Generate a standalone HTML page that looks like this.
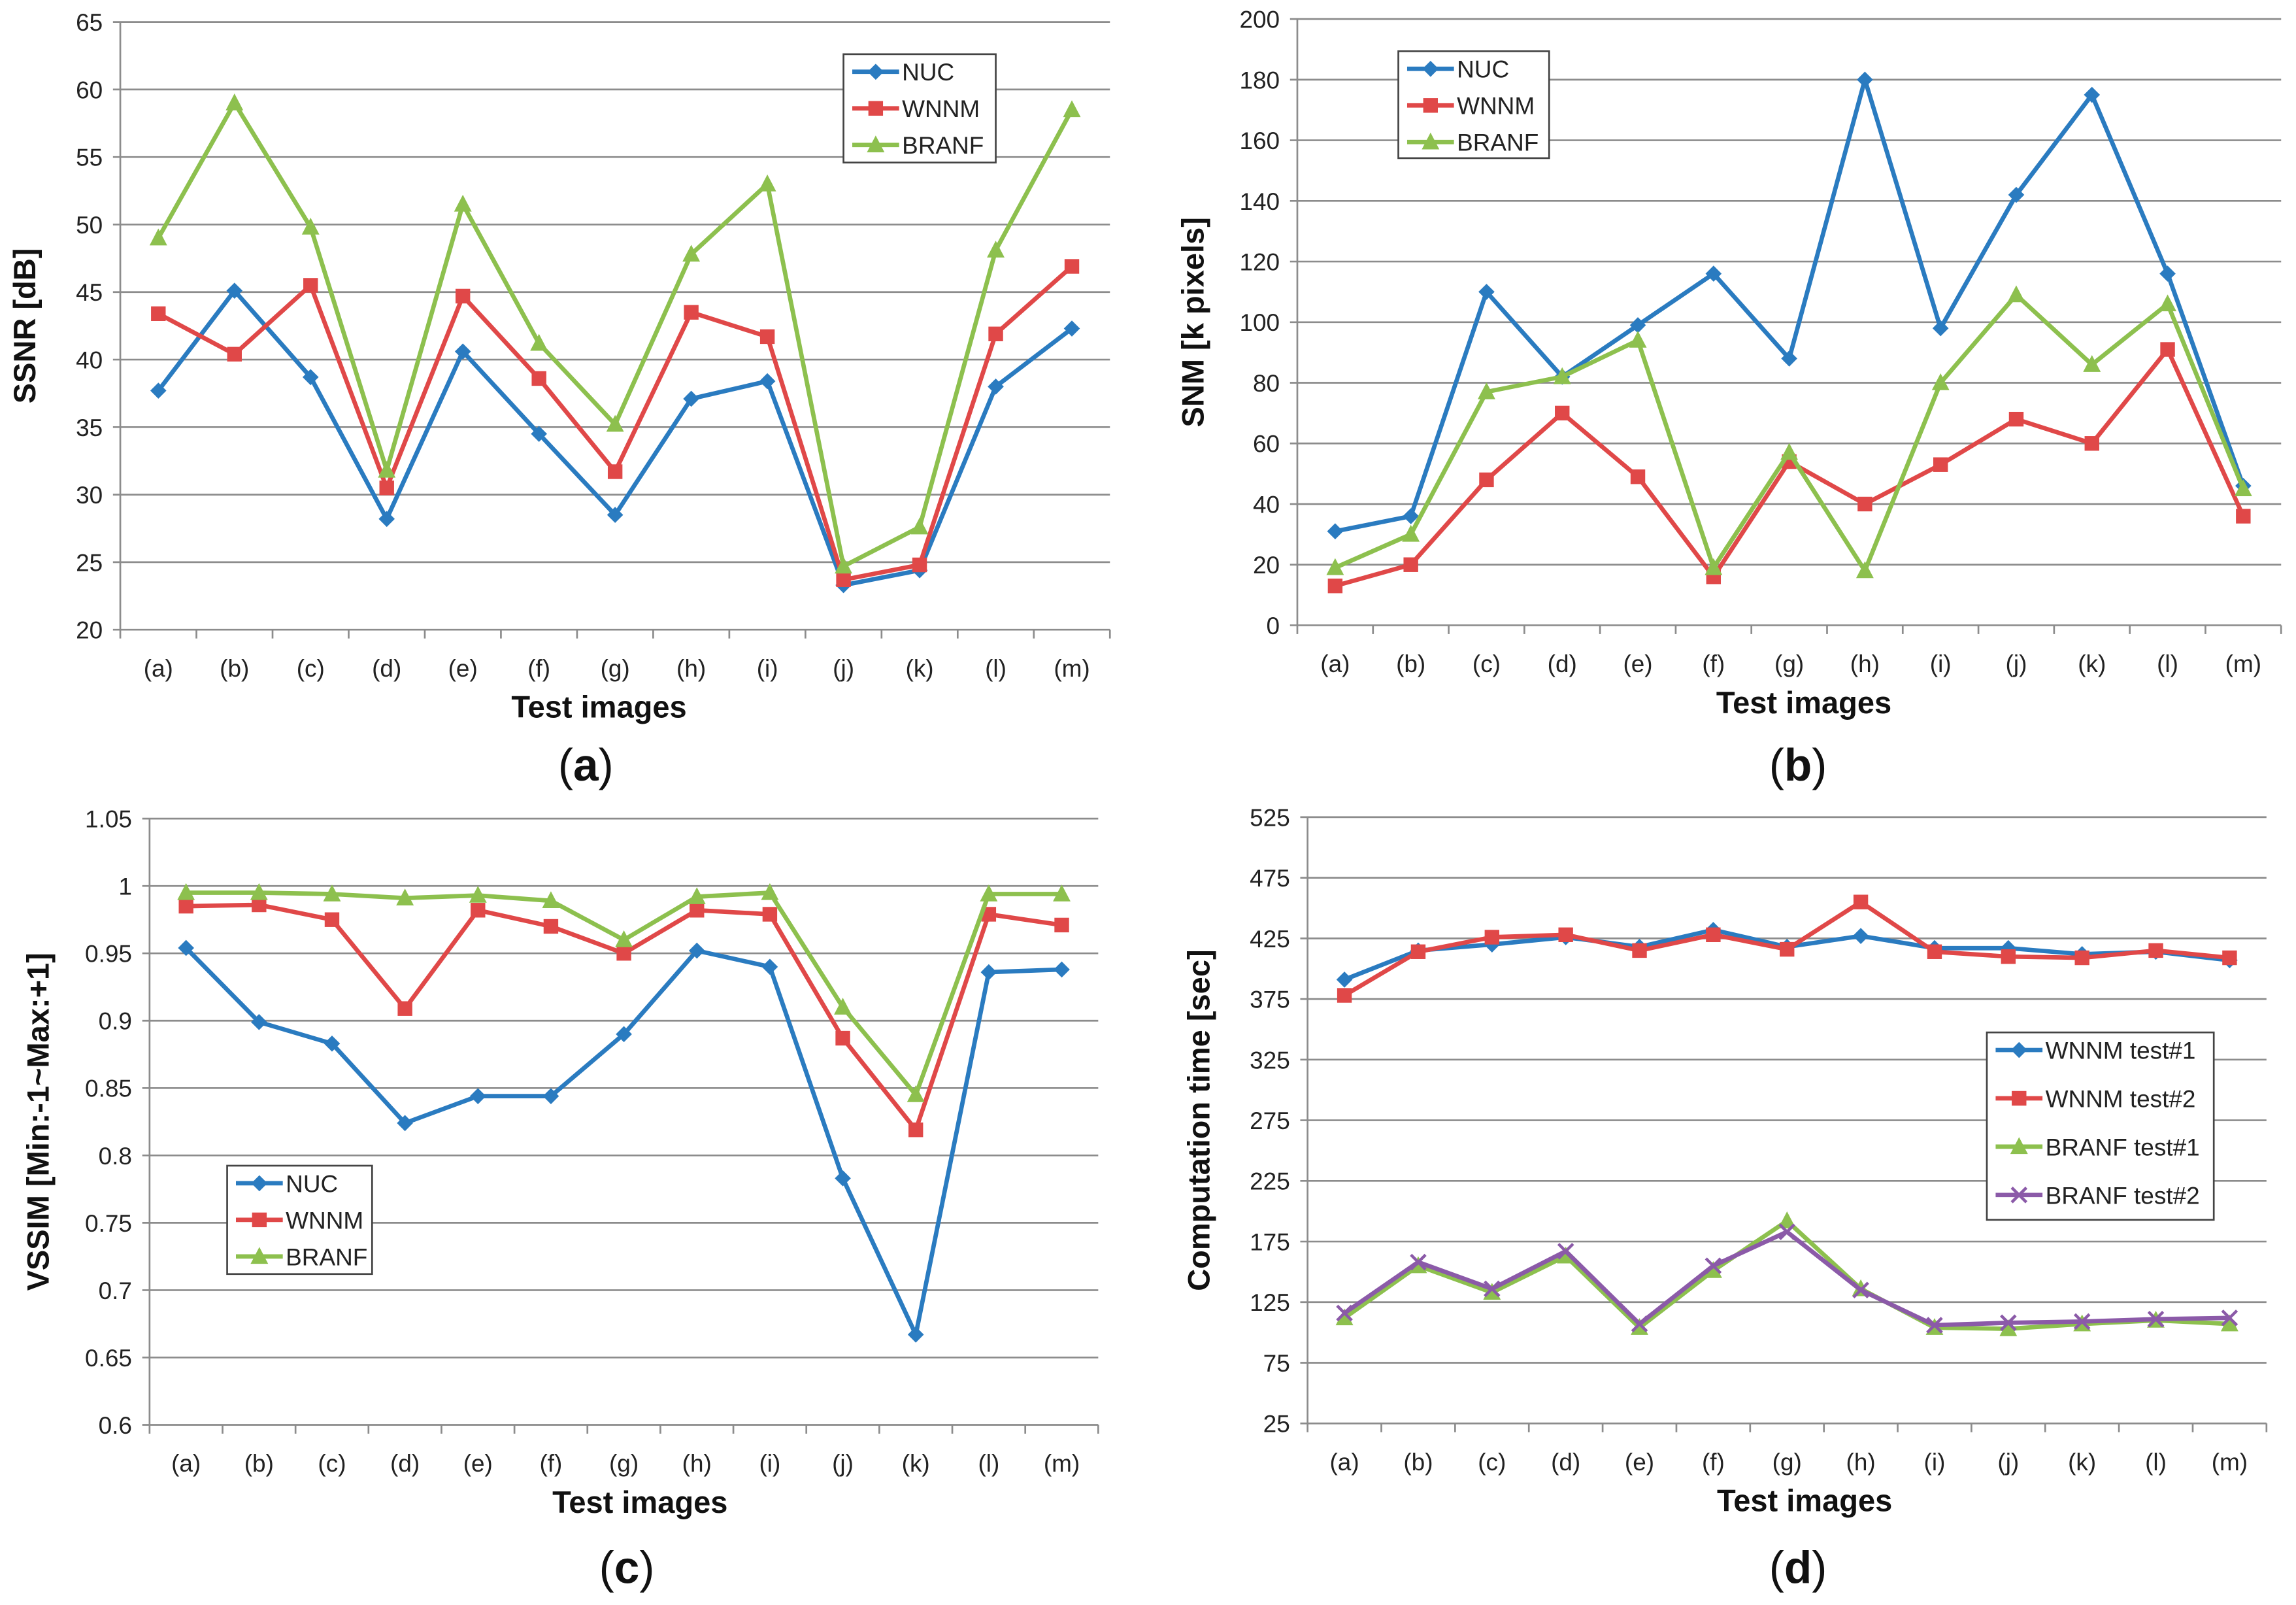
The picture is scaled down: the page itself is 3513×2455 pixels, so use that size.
<!DOCTYPE html>
<html><head><meta charset="utf-8"><style>
html,body{margin:0;padding:0;background:#fff}
svg{display:block}
text{font-family:"Liberation Sans","DejaVu Sans",sans-serif}
</style></head><body>
<svg id="fig" width="3513" height="2455" viewBox="0 0 1568 1096" xmlns="http://www.w3.org/2000/svg"></svg>
<script>
const categories=["(a)","(b)","(c)","(d)","(e)","(f)","(g)","(h)","(i)","(j)","(k)","(l)","(m)"];
const ssnrNUC=[37.7,45.1,38.7,28.2,40.6,34.5,28.5,37.1,38.4,23.3,24.4,38.0,42.3];
const ssnrWNNM=[43.4,40.4,45.5,30.5,44.7,38.6,31.7,43.5,41.7,23.7,24.8,41.9,46.9];
const ssnrBRANF=[49.0,59.0,49.8,31.8,51.5,41.2,35.2,47.8,53.0,24.7,27.6,48.1,58.5];
const snmNUC=[31,36,110,82,99,116,88,180,98,142,175,116,46];
const snmWNNM=[13,20,48,70,49,16,54,40,53,68,60,91,36];
const snmBRANF=[19,30,77,82,94,19,57,18,80,109,86,106,45];
const vssimNUC=[.954,.899,.883,.824,.844,.844,.890,.952,.940,.783,.667,.936,.938];
const vssimWNNM=[.985,.986,.975,.909,.982,.970,.950,.982,.979,.887,.819,.979,.971];
const vssimBRANF=[.995,.995,.994,.991,.993,.989,.960,.992,.995,.910,.845,.994,.994];
const timeWNNM1=[391,415,420,426,418,432,418,427,417,417,412,414,407];
const timeWNNM2=[378,414,426,428,415,428,416,455,414,410,409,415,409];
const timeBRANF1=[112,155,133,163,104,151,192,136,104,103,107,110,107];
const timeBRANF2=[116,158,136,167,107,155,183,135,106,108,109,111,112];
const ticksA=["20","25","30","35","40","45","50","55","60","65"];
const ticksB=["0","20","40","60","80","100","120","140","160","180","200"];
const ticksC=["0.6","0.65","0.7","0.75","0.8","0.85","0.9","0.95","1","1.05"];
const ticksD=["25","75","125","175","225","275","325","375","425","475","525"];

const NS="http://www.w3.org/2000/svg";
const svg=document.getElementById('fig');
function el(tag,attrs,parent){const e=document.createElementNS(NS,tag);for(const k in attrs)e.setAttribute(k,attrs[k]);(parent||svg).appendChild(e);return e;}
const COL={blue:"#2a7bc0",red:"#e04848",green:"#8dc04e",purple:"#8b5aa8"};
function marker(g,type,x,y,c){
  let m;
  if(type==='d')m=el('polygon',{points:`${x},${y-5.5} ${x+5.5},${y} ${x},${y+5.5} ${x-5.5},${y}`,fill:c},g);
  else if(type==='s')m=el('rect',{x:x-5,y:y-5,width:10,height:10,fill:c},g);
  else if(type==='t')m=el('polygon',{points:`${x},${y-6.5} ${x+6},${y+5} ${x-6},${y+5}`,fill:c},g);
  else {m=el('path',{d:`M${x-5},${y-5}L${x+5},${y+5}M${x+5},${y-5}L${x-5},${y+5}`,stroke:c,'stroke-width':2},g);}
  
  
}
function chart(o){
  const g=el('g',{});
  
  
  const {x0,x1,y0,y1,min,max,ticks}=o;
  const ys=v=>y1-(v-min)/(max-min)*(y1-y0);
  const step=(x1-x0)/categories.length;
  const xs=i=>x0+step*(i+0.5);
  ticks.forEach(t=>{
    const y=ys(parseFloat(t));
    const gl=el('line',{x1:x0-5,x2:x1,y1:y,y2:y,stroke:'#8c8c8c','stroke-width':1.2},g);
    
    
    const tx=el('text',{x:x0-12,y:y+6,'font-size':16.5,'text-anchor':'end',fill:'#222'},g);
    tx.textContent=t;
    
    
  });
  el('line',{x1:x0,x2:x0,y1:y0,y2:y1,stroke:'#8c8c8c','stroke-width':1.2},g);
  categories.forEach((c,i)=>{
    el('line',{x1:x0+step*(i+1),x2:x0+step*(i+1),y1:y1,y2:y1+6,stroke:'#8c8c8c','stroke-width':1.2},g);
    const tx=el('text',{x:xs(i),y:y1+32,'font-size':16.5,'text-anchor':'middle',fill:'#222'},g);
    tx.textContent=c;
    
    
  });
  el('line',{x1:x0,x2:x0,y1:y1,y2:y1+6,stroke:'#8c8c8c','stroke-width':1.2},g);
  o.series.forEach(s=>{
    const sg=el('g',{},g);
    
    
    el('polyline',{points:s.data.map((v,i)=>xs(i)+','+ys(v)).join(' '),fill:'none',stroke:s.c,'stroke-width':3,'stroke-linejoin':'round'},sg);
    s.data.forEach((v,i)=>marker(sg,s.m,xs(i),ys(v),s.c));
  });
  const xt=el('text',{x:(x0+x1)/2+o.xto,y:y1+60,'font-size':21,'font-weight':'bold','text-anchor':'middle',fill:'#111'},g);
  xt.textContent='Test images';
  
  
  const yc=(y0+y1)/2;
  const yt=el('text',{x:o.ylx,y:yc,'font-size':21,'font-weight':'bold','text-anchor':'middle',fill:'#111',transform:`rotate(-90 ${o.ylx} ${yc})`},g);
  yt.textContent=o.ylabel;
  
  
  const L=o.legend;
  const lg=el('g',{},g);
  
  
  el('rect',{x:L.x,y:L.y,width:L.w,height:L.h,fill:'#fff',stroke:'#444','stroke-width':1.2},lg);
  o.series.forEach((s,i)=>{
    const yy=L.y+12+i*L.dy;
    const e=el('g',{},lg);
    
    
    el('line',{x1:L.x+6,x2:L.x+38,y1:yy,y2:yy,stroke:s.c,'stroke-width':3},e);
    marker(e,s.m,L.x+22,yy,s.c);
    const t=el('text',{x:L.x+40,y:yy+6,'font-size':16.5,fill:'#222'},e);
    t.textContent=s.label;
  });
  const cap=el('text',{x:o.cap[0],y:o.cap[1],'font-size':31,'text-anchor':'middle','font-family':'"Liberation Serif",serif',fill:'#111'},g);
  cap.innerHTML='(<tspan font-weight="bold">'+o.cap[2]+'</tspan>)';
  
  
}
chart({name:'chart-ssnr',x0:82,x1:758,y0:15,y1:430,min:20,max:65,ticks:ticksA,ylabel:'SSNR [dB]',ylx:24,xto:-11,
 series:[{label:'NUC',data:ssnrNUC,c:COL.blue,m:'d'},{label:'WNNM',data:ssnrWNNM,c:COL.red,m:'s'},{label:'BRANF',data:ssnrBRANF,c:COL.green,m:'t'}],
 legend:{x:576,y:37,w:104,h:74,dy:25},cap:[400,533,'a']});
chart({name:'chart-snm',x0:886,x1:1558,y0:13,y1:427,min:0,max:200,ticks:ticksB,ylabel:'SNM [k pixels]',ylx:822,xto:10,
 series:[{label:'NUC',data:snmNUC,c:COL.blue,m:'d'},{label:'WNNM',data:snmWNNM,c:COL.red,m:'s'},{label:'BRANF',data:snmBRANF,c:COL.green,m:'t'}],
 legend:{x:955,y:35,w:103,h:73,dy:25},cap:[1228,533,'b']});
chart({name:'chart-vssim',x0:102,x1:750,y0:559,y1:973,min:0.6,max:1.05,ticks:ticksC,ylabel:'VSSIM [Min:-1~Max:+1]',ylx:33,xto:11,
 series:[{label:'NUC',data:vssimNUC,c:COL.blue,m:'d'},{label:'WNNM',data:vssimWNNM,c:COL.red,m:'s'},{label:'BRANF',data:vssimBRANF,c:COL.green,m:'t'}],
 legend:{x:155,y:796,w:99,h:74,dy:25},cap:[428,1081,'c']});
chart({name:'chart-time',x0:893,x1:1548,y0:558,y1:972,min:25,max:525,ticks:ticksD,ylabel:'Computation time [sec]',ylx:826,xto:12,
 series:[{label:'WNNM test#1',data:timeWNNM1,c:COL.blue,m:'d'},{label:'WNNM test#2',data:timeWNNM2,c:COL.red,m:'s'},{label:'BRANF test#1',data:timeBRANF1,c:COL.green,m:'t'},{label:'BRANF test#2',data:timeBRANF2,c:COL.purple,m:'x'}],
 legend:{x:1357,y:705,w:155,h:128,dy:33},cap:[1228,1081,'d']});
</script>
</body></html>
